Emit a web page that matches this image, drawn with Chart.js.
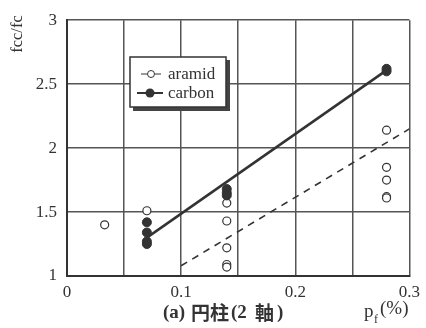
<!DOCTYPE html>
<html>
<head>
<meta charset="utf-8">
<script src="https://cdn.jsdelivr.net/npm/chart.js@4.4.0/dist/chart.umd.min.js"></script>
<style>
  body { margin: 0; background: #fff; }
  #wrap { width: 426px; height: 328px; }
</style>
</head>
<body>
<div id="wrap"><canvas id="myChart" width="426" height="328"></canvas></div>
<script>
// data
const aramidX = [0.033, 0.07, 0.14, 0.14, 0.14, 0.14, 0.14, 0.28, 0.28, 0.28, 0.28, 0.28]
const aramidY = [1.40, 1.51, 1.57, 1.43, 1.22, 1.09, 1.07, 2.14, 1.85, 1.75, 1.62, 1.61]
const carbonX = [0.07, 0.07, 0.07, 0.07, 0.14, 0.14, 0.14, 0.28, 0.28]
const carbonY = [1.42, 1.34, 1.27, 1.25, 1.68, 1.65, 1.63, 2.62, 2.60]
const carbonFitX = [0.07, 0.277]
const carbonFitY = [1.30, 2.59]
const aramidFitX = [0.10, 0.30]
const aramidFitY = [1.08, 2.15]
const xTickLabels = ['0', '0.1', '0.2', '0.3']
const yTickLabels = ['1', '1.5', '2', '2.5', '3']
const seriesNames = ['aramid', 'carbon']

const ink = '#333'
const pts = (xs, ys) => xs.map((x, i) => ({ x: x, y: ys[i] }))

const textPlugin = {
    id: 'texts',
    afterDraw(chart) {
        const c = chart.ctx
        c.save()
        c.fillStyle = ink
        // y axis title
        c.save()
        c.translate(18, 34)
        c.rotate(-Math.PI / 2)
        c.font = '16.5px "Liberation Serif"'
        c.textAlign = 'center'
        c.textBaseline = 'middle'
        c.fillText('fcc/fc', 0, 0)
        c.restore()
        // caption, pieces placed like the original
        c.textBaseline = 'middle'
        c.textAlign = 'left'
        const serif = 'bold 19px "Liberation Serif"'
        const cjk = 'bold 19px "Noto Sans CJK JP"'
        const parts = [['(a)', serif, 163], ['円柱', cjk, 191], ['(2', serif, 231], ['軸', cjk, 255], [')', serif, 277]]
        parts.forEach(p => { c.font = p[1]; c.fillText(p[0], p[2], 313) })
        // p_f(%)
        c.font = '19px "Liberation Serif"'
        c.fillText('p', 364, 312)
        c.font = '12px "Liberation Serif"'
        c.fillText('f', 374, 320)
        c.font = '19px "Liberation Serif"'
        c.fillText('(%)', 380, 309)

        // legend box
        c.fillStyle = '#444'
        c.fillRect(133, 60, 97, 51)
        c.fillStyle = '#fff'
        c.fillRect(130, 57, 96, 50)
        c.strokeStyle = ink
        c.lineWidth = 1.5
        c.strokeRect(130, 57, 96, 50)
        // aramid entry
        c.lineWidth = 1
        c.beginPath(); c.moveTo(141, 74); c.lineTo(147, 74); c.moveTo(155, 74); c.lineTo(161, 74); c.stroke()
        c.beginPath(); c.arc(151, 74, 3.5, 0, Math.PI * 2); c.fillStyle = '#fff'; c.fill(); c.stroke()
        // carbon entry
        c.lineWidth = 2
        c.beginPath(); c.moveTo(137, 93); c.lineTo(163, 93); c.stroke()
        c.beginPath(); c.arc(150, 93, 4.5, 0, Math.PI * 2); c.fillStyle = ink; c.fill()
        c.fillStyle = ink
        c.font = '17px "Liberation Serif"'
        c.fillText(seriesNames[0], 168, 75)
        c.fillText(seriesNames[1], 168, 94)
        c.restore()
    }
}

const ctx = document.getElementById('myChart').getContext('2d')
const myChart = new Chart(ctx, {
    type: 'scatter',
    data: {
        datasets: [
            {
                label: seriesNames[0],
                data: pts(aramidX, aramidY),
                pointRadius: 4,
                pointBorderWidth: 1.2,
                borderColor: ink,
                backgroundColor: '#fff',
                order: 1
            },
            {
                label: seriesNames[1],
                data: pts(carbonX, carbonY),
                pointRadius: 4.5,
                borderColor: ink,
                backgroundColor: ink,
                order: 0
            },
            {
                label: 'carbon fit',
                data: pts(carbonFitX, carbonFitY),
                showLine: true,
                pointRadius: 0,
                borderColor: ink,
                borderWidth: 2.5,
                order: 3
            },
            {
                label: 'aramid fit',
                data: pts(aramidFitX, aramidFitY),
                showLine: true,
                pointRadius: 0,
                borderColor: ink,
                borderWidth: 1.6,
                borderDash: [7, 6],
                order: 2
            }
        ]
    },
    options: {
        responsive: false,
        animation: false,
        layout: { padding: { top: 16, right: 11, left: 0, bottom: 0 } },
        plugins: { legend: { display: false }, tooltip: { enabled: false } },
        scales: {
            x: {
                min: 0, max: 0.3,
                afterFit(s) { s.height = 52 },
                afterBuildTicks(s) { s.ticks = [0, 0.05, 0.1, 0.15, 0.2, 0.25, 0.3].map(v => ({ value: v })) },
                grid: { color: '#555', lineWidth: 1.5, drawTicks: false },
                border: { color: ink, width: 2 },
                ticks: {
                    padding: 6,
                    color: ink,
                    maxRotation: 0,
                    autoSkip: false,
                    font: { family: '"Liberation Serif"', size: 17 },
                    callback: (v) => {
                        const i = Math.round(v * 10)
                        return Math.abs(v * 10 - i) < 1e-6 ? xTickLabels[i] : ''
                    }
                }
            },
            y: {
                min: 1, max: 3,
                afterFit(s) { s.width = 67 },
                grid: { color: '#555', lineWidth: 1.5, drawTicks: false },
                border: { color: ink, width: 2 },
                ticks: {
                    stepSize: 0.5,
                    padding: 10,
                    color: ink,
                    font: { family: '"Liberation Serif"', size: 17 },
                    callback: (v) => yTickLabels[Math.round((v - 1) * 2)]
                }
            }
        }
    },
    plugins: [textPlugin]
})
</script>
</body>
</html>
